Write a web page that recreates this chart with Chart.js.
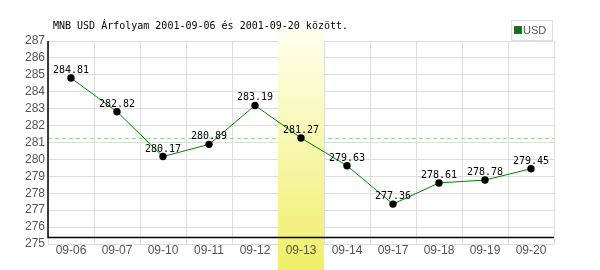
<!DOCTYPE html>
<html>
<head>
<meta charset="utf-8">
<script src="https://cdn.jsdelivr.net/npm/chart.js@4"></script>
<style>
  html, body { margin: 0; padding: 0; background: #fff; }
  #wrap { width: 600px; height: 270px; }
</style>
</head>
<body>
<div id="wrap"><canvas id="rateChart" width="600" height="270"></canvas></div>
<script>
const TITLE = "MNB USD Árfolyam 2001-09-06 és 2001-09-20 között.";
const SERIES_NAME = "USD";
const DATES = ["09-06", "09-07", "09-10", "09-11", "09-12", "09-13", "09-14", "09-17", "09-18", "09-19", "09-20"];
const RATES = [284.81, 282.82, 280.17, 280.89, 283.19, 281.27, 279.63, 277.36, 278.61, 278.78, 279.45];
const HIGHLIGHT_DATE = "09-13";
const Y_MIN = 275;
const Y_MAX = 287;

const MONO = '"DejaVu Sans Mono", monospace';
const SANS = '"Liberation Sans", Arial, sans-serif';

// highlighted day: band, reference line, axis lines, point labels, title and legend
const decorations = {
  id: "decorations",
  beforeDatasetsDraw(chart) {
    const ctx = chart.ctx;
    const area = chart.chartArea;
    const x = chart.scales.x;
    const y = chart.scales.y;
    const idx = DATES.indexOf(HIGHLIGHT_DATE);
    const refY = Math.round(y.getPixelForValue(RATES[idx])) + 0.5;

    ctx.save();
    ctx.strokeStyle = "#9ad99a";
    ctx.lineWidth = 1;
    ctx.setLineDash([4, 3]);
    ctx.beginPath();
    ctx.moveTo(area.left, refY);
    ctx.lineTo(area.right, refY);
    ctx.stroke();
    ctx.setLineDash([]);

    const half = (area.right - area.left) / DATES.length / 2;
    const cx = x.getPixelForValue(idx);
    const top = area.top - 12;
    const grad = ctx.createLinearGradient(0, top, 0, chart.height);
    grad.addColorStop(0, "#fffff0");
    grad.addColorStop(1, "#f0ee68");
    ctx.fillStyle = grad;
    ctx.fillRect(Math.round(cx - half), top, Math.round(half * 2), chart.height - top);

    const axisY = area.bottom - 6.5;
    ctx.strokeStyle = "#000";
    ctx.lineWidth = 1.5;
    ctx.beginPath();
    ctx.moveTo(area.left, area.top);
    ctx.lineTo(area.left, axisY);
    ctx.lineTo(area.right, axisY);
    ctx.stroke();
    ctx.restore();
  },
  afterDatasetsDraw(chart) {
    const ctx = chart.ctx;
    const meta = chart.getDatasetMeta(0);
    ctx.save();
    ctx.font = "10px " + MONO;
    ctx.fillStyle = "#000";
    ctx.textAlign = "center";
    ctx.textBaseline = "alphabetic";
    meta.data.forEach((pt, i) => {
      ctx.fillText(RATES[i].toFixed(2), pt.x, pt.y - 5);
    });
    ctx.restore();
  },
  afterDraw(chart) {
    const ctx = chart.ctx;
    ctx.save();
    ctx.font = "10px " + MONO;
    ctx.fillStyle = "#000";
    ctx.textAlign = "left";
    ctx.textBaseline = "alphabetic";
    ctx.fillText(TITLE, 53, 28.5);

    // legend box
    ctx.fillStyle = "#fff";
    ctx.fillRect(511, 20, 42, 20);
    ctx.strokeStyle = "#ddd";
    ctx.lineWidth = 1;
    ctx.strokeRect(511.5, 20.5, 41, 20);
    ctx.fillStyle = "#008000";
    ctx.fillRect(515, 27, 6, 6);
    ctx.strokeStyle = "#555";
    ctx.strokeRect(514.5, 26.5, 7, 7);
    ctx.fillStyle = "#555";
    ctx.font = "11px " + SANS;
    ctx.textBaseline = "middle";
    ctx.fillText(chart.data.datasets[0].label, 523, 31);
    ctx.restore();
  },
};

new Chart(document.getElementById("rateChart"), {
  type: "line",
  data: {
    labels: DATES,
    datasets: [
      {
        label: SERIES_NAME,
        data: RATES,
        borderColor: "#008000",
        borderWidth: 1,
        backgroundColor: "#000",
        pointBackgroundColor: "#000",
        pointBorderWidth: 0,
        pointRadius: 3.7,
        tension: 0,
        fill: false,
      },
    ],
  },
  options: {
    responsive: false,
    animation: false,
    layout: { padding: { top: 41, right: 46, bottom: 0, left: 0 } },
    scales: {
      x: {
        type: "category",
        offset: true,
        grid: { offset: true, color: "#dddddd", lineWidth: 1, drawTicks: false },
        border: { display: false },
        ticks: { color: "#555", font: { family: SANS, size: 12 }, padding: -1, z: 1, maxRotation: 0, autoSkip: false },
        afterFit(scale) { scale.height = 26; },
      },
      y: {
        min: Y_MIN,
        max: Y_MAX,
        grid: { color: "#dddddd", lineWidth: 1, drawTicks: false },
        border: { display: false },
        ticks: { stepSize: 1, autoSkip: false, color: "#555", font: { family: SANS, size: 12 }, padding: 3 },
        afterFit(scale) { scale.width = 48; },
      },
    },
    plugins: {
      legend: { display: false },
      title: { display: false },
      tooltip: { enabled: false },
    },
  },
  plugins: [decorations],
});
</script>
</body>
</html>
